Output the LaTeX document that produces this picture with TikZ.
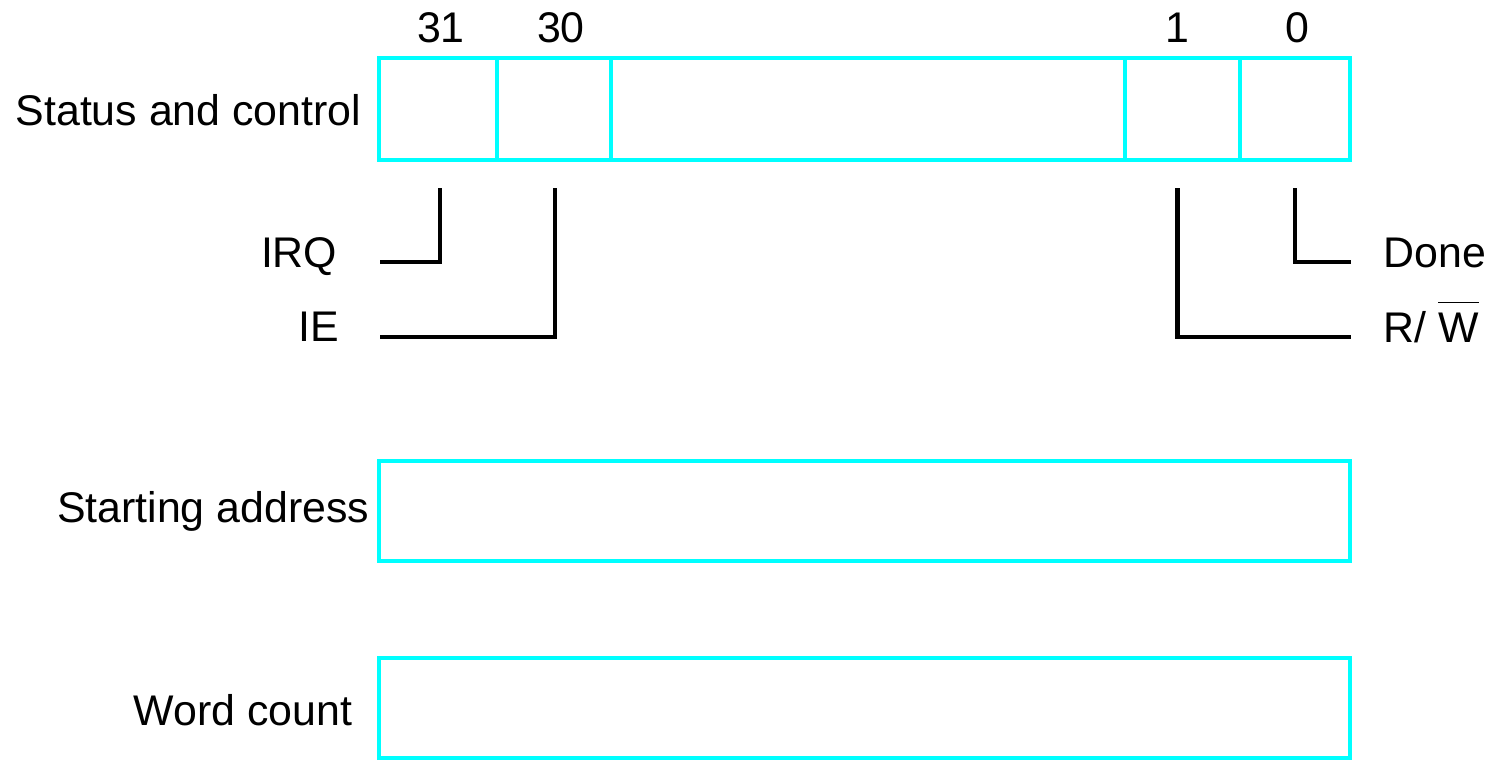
\documentclass[tikz,border=0pt]{standalone}
\usepackage{fontspec}
\setmainfont{Liberation Sans}
\usetikzlibrary{positioning}
\definecolor{regcyan}{RGB}{0,255,255}

\begin{document}
\begin{tikzpicture}[
        field/.style={rectangle, draw=regcyan, line width=1.15pt, inner sep=0pt,
                      outer sep=0pt, minimum height=1.02cm},
        lbl/.style={inner sep=0pt, font=\fontsize{12.2pt}{14pt}\selectfont},
        wire/.style={draw, line width=1.15pt}
    ]
        \useasboundingbox (0,0) rectangle (14.97,7.61);

        % status and control register, bit fields from left to right
        \node[field, minimum width=1.18cm, anchor=north west] (f31) at (3.79,7.03) {};
        \node[field, minimum width=1.14cm, right=0pt of f31] (f30) {};
        \node[field, minimum width=5.14cm, right=0pt of f30] (fmid) {};
        \node[field, minimum width=1.15cm, right=0pt of fmid] (f1) {};
        \node[field, minimum width=1.10cm, right=0pt of f1] (f0) {};

        \node[field, minimum width=9.71cm, minimum height=1.00cm, anchor=north west] (addr) at (3.79,3.00) {};
        \node[field, minimum width=9.71cm, minimum height=1.00cm, anchor=north west] (count) at (3.79,1.03) {};

        % bit numbers
        \node[lbl, anchor=base] (b31) at (4.41,7.19) {31};
        \node[lbl, anchor=base] (b30) at (5.61,7.19) {30};
        \node[lbl, anchor=base] (b1) at (11.77,7.19) {1};
        \node[lbl, anchor=base] (b0) at (12.97,7.19) {0};

        % register names
        \node[lbl, anchor=base east] (status) at (3.62,6.36) {Status and control};
        \node[lbl, anchor=base east] (start) at (3.70,2.39) {Starting address};
        \node[lbl, anchor=base east] (words) at (3.53,0.36) {Word count};

        % flag names
        \node[lbl, anchor=base east] (irq) at (3.38,4.94) {IRQ};
        \node[lbl, anchor=base east] (ie) at (3.40,4.20) {IE};
        \node[lbl, anchor=base west] (done) at (13.83,4.94) {Done};
        \node[lbl, anchor=base west] (rw) at (13.83,4.19) {R/ $\overline{\mbox{\rule{0pt}{0.8em}W}}$};

        \coordinate (irqend) at (3.80,4.99);
        \coordinate (ieend) at (3.80,4.24);
        \coordinate (doneend) at (13.51,4.99);
        \coordinate (rwend) at (13.51,4.24);

        \draw[wire] ([xshift=0.02cm, yshift=-0.28cm]f31.south) |- (irqend);
        \draw[wire] ([xshift=0.01cm, yshift=-0.28cm]f30.south) |- (ieend);
        \draw[wire] ([xshift=-0.05cm, yshift=-0.28cm]f1.south) |- (rwend);
        \draw[wire] ([yshift=-0.28cm]f0.south) |- (doneend);
    \end{tikzpicture}
\end{document}
